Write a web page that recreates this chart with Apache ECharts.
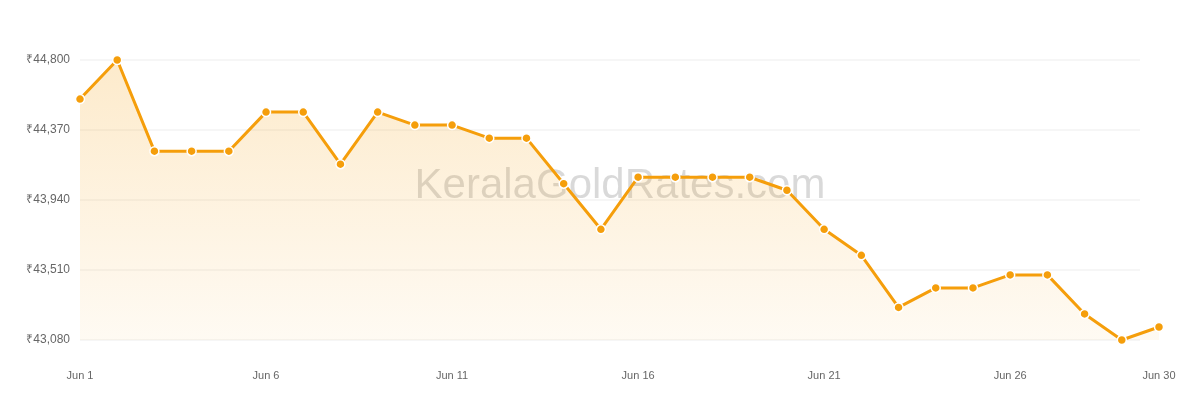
<!DOCTYPE html>
<html>
<head>
<meta charset="utf-8">
<script src="https://cdn.jsdelivr.net/npm/echarts@6/dist/echarts.min.js"></script>
<style>
html,body{margin:0;padding:0;background:#fff;}
#c{width:1200px;height:400px;}
</style>
</head>
<body>
<div id="c"></div>
<script>
const categories = ['Jun 1','Jun 2','Jun 3','Jun 4','Jun 5','Jun 6','Jun 7','Jun 8','Jun 9','Jun 10',
  'Jun 11','Jun 12','Jun 13','Jun 14','Jun 15','Jun 16','Jun 17','Jun 18','Jun 19','Jun 20',
  'Jun 21','Jun 22','Jun 23','Jun 24','Jun 25','Jun 26','Jun 27','Jun 28','Jun 29','Jun 30'];
const prices = [44560, 44800, 44240, 44240, 44240, 44480, 44480, 44160, 44480, 44400,
  44400, 44320, 44320, 44040, 43760, 44080, 44080, 44080, 44080, 44000,
  43760, 43600, 43280, 43400, 43400, 43480, 43480, 43240, 43080, 43160];
const yMin = 43080, yMax = 44800, yStep = 430;
const watermark = 'KeralaGoldRates.com';

const chart = echarts.init(document.getElementById('c'), null, {renderer: 'canvas'});
const fmt = v => '₹' + v.toLocaleString('en-US');
chart.setOption({
  animation: false,
  backgroundColor: '#fff',
  graphic: [{
    type: 'text', x: 620, y: 186, z: 1,
    style: {text: watermark, font: '42px "Liberation Sans", Arial, sans-serif', fill: 'rgba(0,0,0,0.15)',
      textAlign: 'center', textVerticalAlign: 'middle'}
  }],
  grid: [
    {left: 80, right: 60, top: 60, bottom: 60},
    {left: 80, right: 41, top: 60, bottom: 60}
  ],
  xAxis: [
    {gridIndex: 0, type: 'category', data: categories, show: false, boundaryGap: false},
    {gridIndex: 1, type: 'category', data: categories, boundaryGap: false,
     axisLine: {show: false}, axisTick: {show: false},
     axisLabel: {
       color: '#666', fontSize: 11, margin: 30, fontFamily: '"Liberation Sans", Arial, sans-serif',
       interval: (i) => i % 5 === 0 || i === categories.length - 1
     }}
  ],
  yAxis: [
    {gridIndex: 0, type: 'value', min: yMin, max: yMax, interval: yStep,
     axisLine: {show: false}, axisTick: {show: false},
     axisLabel: {color: '#666', fontSize: 12, margin: 10, formatter: fmt,
       fontFamily: '"Liberation Sans", Arial, sans-serif'},
     splitLine: {lineStyle: {color: '#f6f6f6', width: 2}}},
    {gridIndex: 1, type: 'value', min: yMin, max: yMax, interval: yStep, show: false,
     splitLine: {show: false}}
  ],
  series: [{
    type: 'line', xAxisIndex: 1, yAxisIndex: 1, data: prices, z: 3,
    symbol: 'circle', symbolSize: 9,
    itemStyle: {color: '#f59e0b', borderColor: '#fff', borderWidth: 1.5},
    lineStyle: {color: '#f59e0b', width: 3},
    areaStyle: {
      color: new echarts.graphic.LinearGradient(0, 0, 0, 1, [
        {offset: 0, color: 'rgba(245,158,11,0.3)'},
        {offset: 1, color: 'rgba(245,158,11,0.07)'}
      ])
    }
  }]
});
</script>
</body>
</html>
